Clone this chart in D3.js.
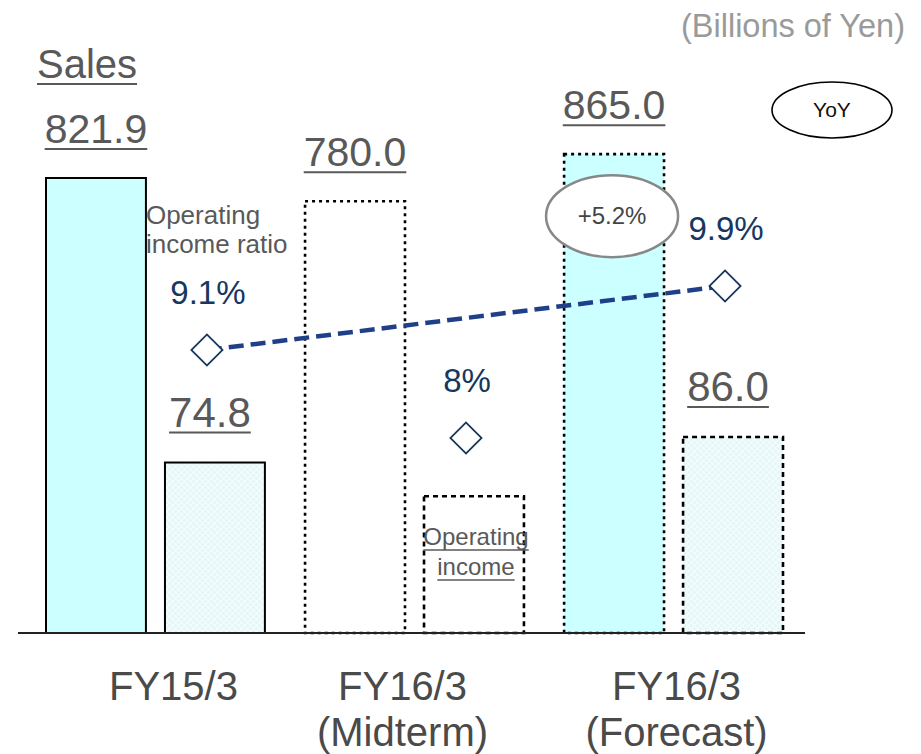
<!DOCTYPE html>
<html>
<head>
<meta charset="utf-8">
<script src="https://cdn.jsdelivr.net/npm/d3@7"></script>
<style>
  html, body { margin: 0; padding: 0; background: #fff; }
  svg { display: block; font-family: "Liberation Sans", Arial, sans-serif; }
</style>
</head>
<body>
<svg id="chart" width="921" height="754"></svg>
<script>
// Sales and operating income by fiscal year (billions of yen)
const categories = ["FY15/3", "FY16/3 (Midterm)", "FY16/3 (Forecast)"];
const categoryLines = [["FY15/3"], ["FY16/3", "(Midterm)"], ["FY16/3", "(Forecast)"]];
const sales = [821.9, 780.0, 865.0];
const salesLabels = ["821.9", "780.0", "865.0"];
const operatingIncome = [74.8, 60.0, 86.0];
const operatingIncomeLabels = ["74.8", null, "86.0"];
const incomeRatio = [9.1, 8.0, 9.9];
const incomeRatioLabels = ["9.1%", "8%", "9.9%"];
const salesYoY = "+5.2%";
const unitLabel = "(Billions of Yen)";

// Bar styling per year: actual = solid outline, plan = dashed/dotted
const salesFill = ["#ccffff", "#ffffff", "#ccffff"];
const salesDash = [null, "3,4", "3,4"];
const oiFill = ["url(#oiPattern)", "#ffffff", "url(#oiPattern)"];
const oiDash = [null, "5,4", "5,4"];

const svg = d3.select("#chart");
const textGray = "#595959";
const navy = "#17375e";
const lineBlue = "#1f3f88";

// Light dotted fill for operating income bars
const defs = svg.append("defs");
const pat = defs.append("pattern")
  .attr("id", "oiPattern").attr("patternUnits", "userSpaceOnUse")
  .attr("width", 6).attr("height", 6);
pat.append("rect").attr("width", 6).attr("height", 6).attr("fill", "#f0fbfc");
pat.append("circle").attr("cx", 1.5).attr("cy", 1.5).attr("r", 1.2).attr("fill", "#e2f5f7");
pat.append("circle").attr("cx", 4.5).attr("cy", 4.5).attr("r", 1.2).attr("fill", "#e2f5f7");

const baseY = 633;
const x = d3.scaleBand().domain(categories).range([46, 783]).paddingInner(0.155).paddingOuter(0);
const xInner = d3.scaleBand().domain(["sales", "oi"]).range([0, x.bandwidth()]).paddingInner(0.16);
const ySales = d3.scaleLinear().domain([0, 821.9]).range([baseY, 178]);
const yOI = d3.scaleLinear().domain([0, 86]).range([baseY, 437]);
const yRatio = d3.scaleLinear().domain([8, 9.9]).range([438, 286]);

function underline(sel, dy, color, width) {
  sel.each(function () {
    const bb = this.getBBox();
    const yb = +d3.select(this).attr("y");
    d3.select(this.parentNode).append("line")
      .attr("x1", bb.x).attr("x2", bb.x + bb.width)
      .attr("y1", yb + dy).attr("y2", yb + dy)
      .attr("stroke", color).attr("stroke-width", width);
  });
}

// Sales and operating income bars
const g = svg.append("g");
categories.forEach((c, i) => {
  g.append("rect")
    .attr("x", x(c) + xInner("sales"))
    .attr("y", ySales(sales[i]))
    .attr("width", xInner.bandwidth())
    .attr("height", baseY - ySales(sales[i]))
    .attr("fill", salesFill[i])
    .attr("stroke", "#000").attr("stroke-width", salesDash[i] ? 2.6 : 2)
    .attr("stroke-dasharray", salesDash[i]);
  g.append("rect")
    .attr("x", x(c) + xInner("oi"))
    .attr("y", yOI(operatingIncome[i]))
    .attr("width", xInner.bandwidth())
    .attr("height", baseY - yOI(operatingIncome[i]))
    .attr("fill", oiFill[i])
    .attr("stroke", "#000").attr("stroke-width", oiDash[i] ? 2.6 : 2)
    .attr("stroke-dasharray", oiDash[i]);
});

// Baseline
svg.append("line").attr("x1", 18).attr("x2", 805).attr("y1", baseY).attr("y2", baseY)
  .attr("stroke", "#222").attr("stroke-width", 2);

// Value labels
categories.forEach((c, i) => {
  const sx = x(c) + xInner("sales") + xInner.bandwidth() / 2;
  const t = svg.append("g").append("text")
    .attr("x", sx).attr("y", ySales(sales[i]) - 35)
    .attr("text-anchor", "middle").attr("font-size", 41).attr("fill", textGray)
    .text(salesLabels[i]);
  underline(t, 6, textGray, 2);
  if (operatingIncomeLabels[i]) {
    const ox = x(c) + xInner("oi") + xInner.bandwidth() / 2;
    const t2 = svg.append("g").append("text")
      .attr("x", ox - 5).attr("y", yOI(operatingIncome[i]) - 36)
      .attr("text-anchor", "middle").attr("font-size", 42).attr("fill", textGray)
      .text(operatingIncomeLabels[i]);
    underline(t2, 6, textGray, 2);
  }
});

// Operating income ratio: dashed trend between actual and forecast
const ratioX = i => x(categories[i]) + xInner("oi") + xInner.bandwidth() / 2 - 8;
svg.append("path")
  .attr("d", d3.line()([[ratioX(0), yRatio(incomeRatio[0])], [ratioX(2), yRatio(incomeRatio[2])]]))
  .attr("stroke", lineBlue).attr("stroke-width", 4.5).attr("fill", "none")
  .attr("stroke-dasharray", "15,7");

const diamond = d3.symbol().type(d3.symbolSquare).size(22 * 22);
incomeRatio.forEach((v, i) => {
  svg.append("path")
    .attr("d", diamond())
    .attr("transform", `translate(${ratioX(i)},${yRatio(v)}) rotate(45)`)
    .attr("fill", "#fff").attr("stroke", navy).attr("stroke-width", 1.8);
  svg.append("text")
    .attr("x", ratioX(i) + 1).attr("y", yRatio(v) - 46)
    .attr("text-anchor", "middle").attr("font-size", 33).attr("fill", navy)
    .text(incomeRatioLabels[i]);
});

// Annotations
const ratioNote = svg.append("text").attr("font-size", 26).attr("fill", textGray);
ratioNote.append("tspan").attr("x", ratioX(0) - 61).attr("y", yRatio(incomeRatio[0]) - 126).text("Operating");
ratioNote.append("tspan").attr("x", ratioX(0) - 61).attr("y", yRatio(incomeRatio[0]) - 97).text("income ratio");

const oiMidX = x(categories[1]) + xInner("oi") + xInner.bandwidth() / 2;
const oiNote = svg.append("g");
["Operating", "income"].forEach((s, k) => {
  const t = oiNote.append("text")
    .attr("x", oiMidX + 2).attr("y", 545 + k * 30)
    .attr("text-anchor", "middle").attr("font-size", 24).attr("fill", textGray).text(s);
  underline(t, 5, textGray, 1.5);
});

const sTitle = svg.append("g").append("text")
  .attr("x", 37).attr("y", 78).attr("font-size", 40).attr("fill", textGray).text("Sales");
underline(sTitle, 6, textGray, 2);

svg.append("text").attr("x", 905).attr("y", 37).attr("text-anchor", "end")
  .attr("font-size", 32.5).attr("fill", "#9a9a9a").text(unitLabel);

// YoY legend ellipse
svg.append("ellipse").attr("cx", 832).attr("cy", 110).attr("rx", 60).attr("ry", 28)
  .attr("fill", "#fff").attr("stroke", "#000").attr("stroke-width", 1.6);
svg.append("text").attr("x", 832).attr("y", 117).attr("text-anchor", "middle")
  .attr("font-size", 21).attr("fill", "#111").text("YoY");

// Sales YoY bubble on forecast bar
const fcX = x(categories[2]) + xInner("sales") + xInner.bandwidth() / 2 - 2;
const fcY = ySales(sales[2]) + 62;
svg.append("ellipse").attr("cx", fcX).attr("cy", fcY).attr("rx", 66).attr("ry", 41)
  .attr("fill", "#fff").attr("stroke", "#888").attr("stroke-width", 2.5);
svg.append("text").attr("x", fcX).attr("y", fcY + 8).attr("text-anchor", "middle")
  .attr("font-size", 24).attr("fill", "#444").text(salesYoY);

// Category labels
categories.forEach((c, i) => {
  const t = svg.append("text").attr("text-anchor", "middle")
    .attr("font-size", 40).attr("fill", "#4a4a4a");
  categoryLines[i].forEach((line, k) => {
    t.append("tspan").attr("x", x(c) + x.bandwidth() / 2 + [18, -12, 3][i])
      .attr("y", 700 + k * 46).text(line);
  });
});
</script>
</body>
</html>
